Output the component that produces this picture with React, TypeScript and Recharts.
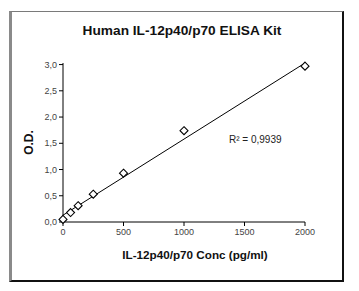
import React from "react";
import { ComposedChart, Scatter, Line, XAxis, YAxis, Label } from "recharts";

const concentrations = [0, 62.5, 125, 250, 500, 1000, 2000];
const odValues = [0.05, 0.18, 0.31, 0.53, 0.93, 1.74, 2.97];
const trendX = [0, 2000];
const trendY = [0.13, 3.03];
const xTicks = [0, 500, 1000, 1500, 2000];
const yTicks = [0, 0.5, 1, 1.5, 2, 2.5, 3];

const points = concentrations.map((x, i) => ({ x, y: odValues[i] }));
const trend = trendX.map((x, i) => ({ x, y: trendY[i] }));

const fmtY = (v: number) => v.toFixed(1).replace(".", ",");

const DiamondShape = (props: any) => {
  const { cx, cy } = props;
  const r = 4;
  return (
    <polygon
      points={`${cx},${cy - r} ${cx + r},${cy} ${cx},${cy + r} ${cx - r},${cy}`}
      fill="#fff"
      stroke="#000"
      strokeWidth={1.1}
    />
  );
};

const font = "'Liberation Sans', Arial, sans-serif";

export default function App() {
  return (
    <div style={{ position: "absolute", left: 0, top: 0, width: 359, height: 291, background: "#fff", fontFamily: font }}>
      <div
        style={{
          position: "absolute",
          left: 9,
          top: 11,
          width: 330,
          height: 268,
          borderLeft: "3px solid #8a8a8a",
          borderTop: "1px solid #7a7a7a",
          borderRight: "2px solid #111",
          borderBottom: "2px solid #111",
        }}
      />
      <div
        style={{
          position: "absolute",
          left: 0,
          width: 364,
          top: 23,
          textAlign: "center",
          fontSize: 13.7,
          fontWeight: "bold",
          color: "#111",
        }}
      >
        Human IL-12p40/p70 ELISA Kit
      </div>
      <div
        style={{
          position: "absolute",
          left: 95,
          width: 200,
          top: 248,
          textAlign: "center",
          fontSize: 11.7,
          fontWeight: "bold",
          color: "#111",
        }}
      >
        IL-12p40/p70 Conc (pg/ml)
      </div>
      <div style={{ position: "absolute", left: 229, top: 134, fontSize: 10, color: "#222" }}>
        R² = 0,9939
      </div>
      <div style={{ position: "absolute", left: 0, top: 0 }}>
        <ComposedChart
          width={359}
          height={291}
          margin={{ top: 63, right: 54, bottom: 0, left: 0 }}
        >
          <XAxis
            dataKey="x"
            type="number"
            domain={[0, 2000]}
            ticks={xTicks}
            height={69}
            tickSize={4}
            tickMargin={3}
            stroke="#000"
            tick={{ fontSize: 9, fill: "#444", fontFamily: font }}
          />
          <YAxis
            dataKey="y"
            type="number"
            domain={[0, 3]}
            ticks={yTicks}
            width={63}
            tickSize={4}
            tickMargin={2}
            stroke="#000"
            tickFormatter={fmtY}
            tick={{ fontSize: 9, fill: "#444", fontFamily: font }}
          >
            <Label
              value="O.D."
              angle={-90}
              position="insideLeft"
              offset={29}
              style={{ fontSize: 12, fontWeight: "bold", fill: "#111", fontFamily: font, textAnchor: "middle" }}
            />
          </YAxis>
          <Line
            data={trend}
            dataKey="y"
            stroke="#000"
            strokeWidth={1}
            dot={false}
            activeDot={false}
            isAnimationActive={false}
            type="linear"
          />
          <Scatter data={points} dataKey="y" shape={DiamondShape} isAnimationActive={false} />
        </ComposedChart>
      </div>
    </div>
  );
}
